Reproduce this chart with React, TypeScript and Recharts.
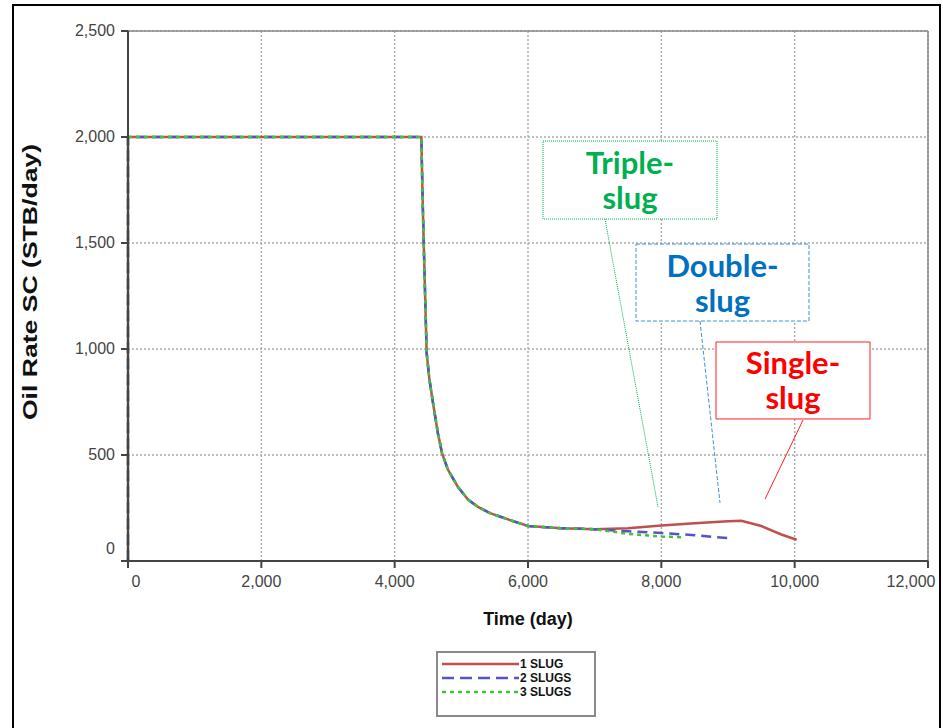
import { LineChart, Line, XAxis, YAxis, CartesianGrid, Legend, ReferenceArea, ReferenceLine } from 'recharts';

// common start of all three runs (day, STB/day)
const sharedTime = [0, 0, 4400, 4420, 4440, 4480, 4520, 4575, 4650, 4710, 4800, 4950, 5100, 5250, 5430, 5730, 6000, 6500, 7000];
const sharedRate = [0, 2000, 2000, 1700, 1450, 980, 860, 745, 600, 509, 430, 349, 290, 255, 226, 193, 165, 155, 150];

// tails after the runs split
const time1 = [7500, 8000, 8500, 9000, 9200, 9500, 9800, 10030];
const rate1 = [155, 168, 178, 187, 190, 165, 125, 100];
const time2 = [7500, 8000, 8500, 9060];
const rate2 = [140, 132, 122, 106];
const time3 = [7500, 8000, 8300];
const rate3 = [128, 115, 112];

const xTicks = [0, 2000, 4000, 6000, 8000, 10000, 12000];
const yTicks = [0, 500, 1000, 1500, 2000, 2500];

const toRows = (t: number[], r: number[]) => t.map((d, i) => ({ t: d, v: r[i] }));
const data1 = toRows([...sharedTime, ...time1], [...sharedRate, ...rate1]);
const data2 = toRows([...sharedTime, ...time2], [...sharedRate, ...rate2]);
const data3 = toRows([...sharedTime, ...time3], [...sharedRate, ...rate3]);

const fmt = (n: number) => n.toLocaleString('en-US');
const tickFont = { fontFamily: 'Liberation Sans, Arial, sans-serif', fontSize: 16 };

const XTick = (props: any) => {
  const { x, y, payload } = props;
  const shift = payload.value === 12000 ? -12 : payload.value === 0 ? 8 : 0;
  return (
    <text x={x + shift} y={y} dy={14} textAnchor="middle" fill="#444" style={tickFont}>{fmt(payload.value)}</text>
  );
};

const YTick = (props: any) => {
  const { x, y, payload } = props;
  const lift = payload.value === 0 ? -12 : 0;
  return (
    <text x={x} y={y + lift} dy={5} textAnchor="end" fill="#444" style={tickFont}>{fmt(payload.value)}</text>
  );
};

// two-line annotation text, each line its own element
const boxLabel = (lines: string[], color: string) => (props: any) => {
  const { x, y, width, height } = props.viewBox;
  const cx = x + width / 2;
  const mid = y + height / 2;
  const st = { fontFamily: 'Lato, sans-serif', fontWeight: 700, fontSize: 31 };
  return (
    <g>
      <text x={cx} y={mid - 6} textAnchor="middle" fill={color} style={st}>{lines[0]}</text>
      <text x={cx} y={mid + 29} textAnchor="middle" fill={color} style={st}>{lines[1]}</text>
    </g>
  );
};

const legendItems = [
  { name: '1 SLUG', color: '#c0504d', dash: '' },
  { name: '2 SLUGS', color: '#5454c4', dash: '12 6' },
  { name: '3 SLUGS', color: '#3cc43c', dash: '4 4' },
];

const renderLegend = () => (
  <div style={{ border: '2px solid #8a8a8a', width: 160, height: 66, boxSizing: 'border-box', paddingTop: 4 }}>
    {legendItems.map(it => (
      <div key={it.name} style={{ display: 'flex', alignItems: 'center', height: 14 }}>
        <svg width={78} height={8} style={{ marginLeft: 4 }}>
          <line x1={0} y1={4} x2={77} y2={4} stroke={it.color} strokeWidth={2.5} strokeDasharray={it.dash} />
        </svg>
        <span style={{ fontFamily: 'Liberation Sans, Arial, sans-serif', fontSize: 12, color: '#111', fontWeight: 700 }}>{it.name}</span>
      </div>
    ))}
  </div>
);

export default function App() {
  return (
    <div style={{ position: 'fixed', left: 0, top: 0, width: 943, height: 728, background: '#fff' }}>
      <div style={{ position: 'absolute', left: 12, top: 4, width: 929, height: 740, border: '2px solid #000', boxSizing: 'border-box' }} />
      <LineChart width={943} height={728} margin={{ top: 31, right: 15, left: 13, bottom: 137 }}>
        <CartesianGrid stroke="#aaa" strokeDasharray="2 2" strokeWidth={1.5} />
        <XAxis type="number" dataKey="t" domain={[0, 12000]} ticks={xTicks} tick={<XTick />}
          height={30} stroke="#444" strokeWidth={2} tickSize={7} tickMargin={5} allowDuplicatedCategory={false}
          label={{ value: 'Time (day)', position: 'bottom', offset: 21, fill: '#111', fontSize: 18, fontWeight: 700, fontFamily: 'Liberation Sans, Arial, sans-serif' }} />
        <YAxis type="number" domain={[0, 2500]} ticks={yTicks} tick={<YTick />} width={115}
          stroke="#444" strokeWidth={2} tickSize={7} tickMargin={6}
          label={{
            content: () => (
              <text transform="translate(37,282) rotate(-90) scale(1.33,1)" textAnchor="middle" fill="#111"
                style={{ fontFamily: 'Liberation Sans, Arial, sans-serif', fontWeight: 700, fontSize: 20 }}>
                Oil Rate SC (STB/day)
              </text>
            ),
          }} />
        <ReferenceLine y={2500} stroke="#888" strokeWidth={1.5} />
        <ReferenceLine x={12000} stroke="#888" strokeWidth={1.5} />
        <Legend layout="vertical" align="center" verticalAlign="middle" content={renderLegend}
          wrapperStyle={{ position: 'absolute', left: 436, top: 651, width: 162, height: 67 }} />

        <Line data={data1} dataKey="v" name="1 SLUG" stroke="#c0504d" strokeWidth={2.5} dot={false} isAnimationActive={false} />
        <Line data={data2} dataKey="v" name="2 SLUGS" stroke="#5454c4" strokeWidth={2.5} strokeDasharray="10 6" dot={false} isAnimationActive={false} />
        <Line data={data3} dataKey="v" name="3 SLUGS" stroke="#3cc43c" strokeWidth={2.5} strokeDasharray="4 4" dot={false} isAnimationActive={false} />

        <ReferenceArea x1={6225} x2={8835} y1={1613} y2={1981} fill="#fff" fillOpacity={1} stroke="#00b050" strokeDasharray="1 1"
          ifOverflow="visible" label={boxLabel(['Triple-', 'slug'], '#00b050')} />
        <ReferenceArea x1={7620} x2={10215} y1={1132} y2={1495} fill="#fff" fillOpacity={1} stroke="#3d8fd8" strokeDasharray="4 2"
          ifOverflow="visible" label={boxLabel(['Double-', 'slug'], '#0070c0')} />
        <ReferenceArea x1={8820} x2={11130} y1={670} y2={1033} fill="#fff" fillOpacity={1} stroke="#ff2020"
          ifOverflow="visible" label={boxLabel(['Single-', 'slug'], '#ff0000')} />
        <ReferenceLine segment={[{ x: 7155, y: 1613 }, { x: 7950, y: 255 }]} stroke="#00b050" strokeDasharray="1 1" ifOverflow="visible" />
        <ReferenceLine segment={[{ x: 8580, y: 1132 }, { x: 8880, y: 274 }]} stroke="#3d8fd8" strokeDasharray="4 2" ifOverflow="visible" />
        <ReferenceLine segment={[{ x: 10125, y: 665 }, { x: 9555, y: 292 }]} stroke="#ff2020" ifOverflow="visible" />
      </LineChart>
    </div>
  );
}
